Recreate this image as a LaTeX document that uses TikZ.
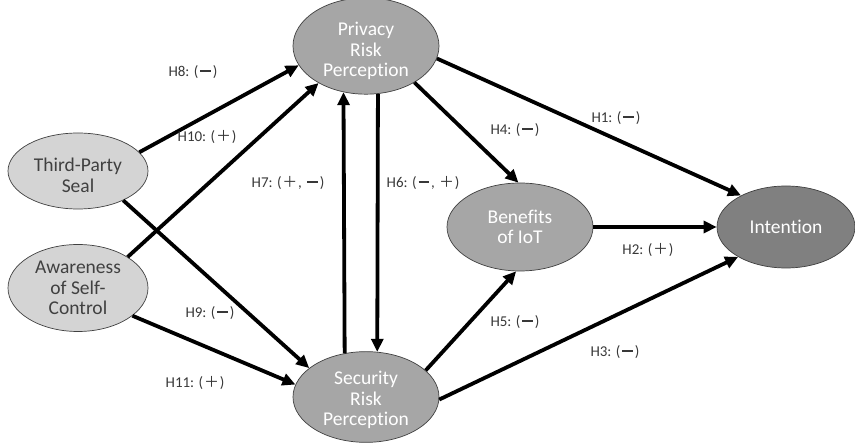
\documentclass[tikz,border=0pt]{standalone}
\usepackage{fontspec}
\setmainfont{Carlito}[Ligatures={NoCommon}]
\newfontfamily\cjk{Noto Sans CJK SC}
\usetikzlibrary{shapes.geometric,arrows.meta}
\newcommand\mneg{\hspace{0.12em}\rule[0.27em]{0.72em}{0.14em}\hspace{0.12em}}
\newcommand\mpos{\hspace{0.05em}{\cjk ＋}\hspace{0.05em}}
\begin{document}
\begin{tikzpicture}[x=1pt,y=-1pt,
  ell/.style={ellipse, draw=black!75, line width=0.7pt, align=center, font=\fontsize{19.5}{20.5}\selectfont, inner sep=0pt},
  dark/.style={ell, fill=black!35, text=white},
  light/.style={ell, fill=black!17, text=black!75},
  arr/.style={line width=3.8pt, -{Triangle[length=13pt,width=12pt]}},
  lab/.style={font=\fontsize{15}{17}\selectfont, text=black!78}]
\path[use as bounding box] (0,0) rectangle (855,443);
\node[dark, minimum width=146pt, minimum height=90pt] (priv) at (366,46) {\rule{0pt}{24pt}Privacy\\Risk\\Percept\kern0pt ion};
\node[dark, minimum width=146pt, minimum height=88pt] (sec) at (366,397) {\rule{0pt}{20pt}Security\\Risk\\Percept\kern0pt ion};
\node[light, minimum width=140pt, minimum height=76pt] (tps) at (78,171) {\rule{0pt}{22pt}Third-Party\\Seal};
\node[light, minimum width=140pt, minimum height=87pt] (awr) at (78,288) {Awareness\\of Self-\\Control};
\node[dark, minimum width=146pt, minimum height=88pt] (ben) at (520,227) {Benefits\\of IoT};
\node[ell, fill=black!50, text=white, minimum width=138pt, minimum height=82pt] (int) at (786,227) {Intent\kern0pt ion};

\draw[arr] (tps.17) -- (priv.196);
\draw[arr] (awr.32) -- (priv.218);
\draw[arr] (tps.327) -- (sec.153);
\draw[arr] (awr.333) -- (sec.170);
\draw[arr] (sec.116.5) -- (priv.244);
\draw[arr] (priv.284) -- (sec.76);
\draw[arr] (priv.323) -- (ben.92);
\draw[arr] (sec.24) -- (ben.265);
\draw[arr] (priv.350) -- (int.145);
\draw[arr] (ben.east) -- (int.west);
\draw[arr] (sec.358) -- (int.212);

\node[lab] (l8) at (193,72) {H8: (\mneg)};
\node[lab] (l10) at (207,137) {H10: (\mpos)};
\node[lab] (l7) at (288,183) {H7: (\mpos, \mneg)};
\node[lab] (l6) at (423,183) {H6: (\mneg, \mpos)};
\node[lab] (l9) at (210,313) {H9: (\mneg)};
\node[lab] (l11) at (195,383) {H11: (\mpos)};
\node[lab] (l4) at (515,130) {H4: (\mneg)};
\node[lab] (l5) at (515,322) {H5: (\mneg)};
\node[lab] (l1) at (616,118) {H1: (\mneg)};
\node[lab] (l2) at (648,250) {H2: (\mpos)};
\node[lab] (l3) at (615,352) {H3: (\mneg)};
\end{tikzpicture}
\end{document}
